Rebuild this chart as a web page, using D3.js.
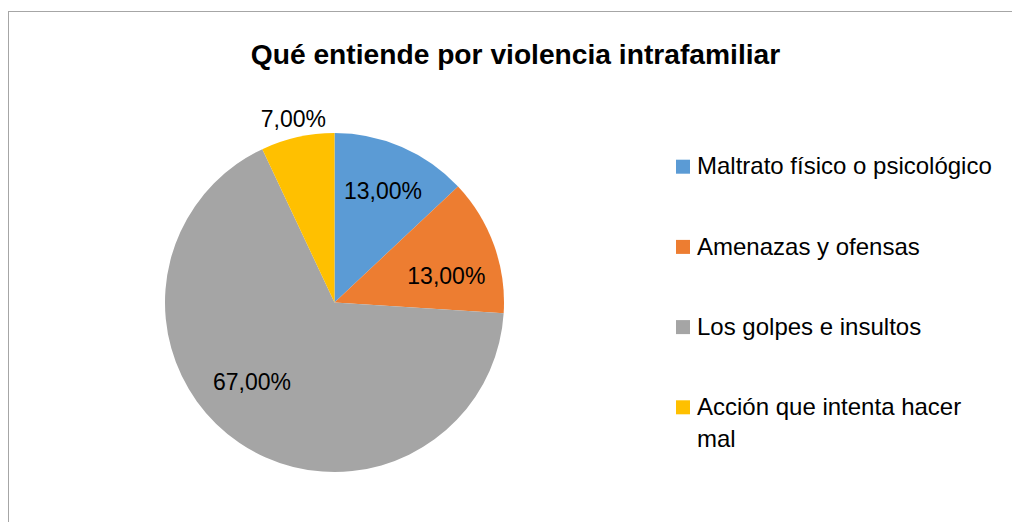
<!DOCTYPE html>
<html>
<head>
<meta charset="utf-8">
<script src="https://cdn.jsdelivr.net/npm/d3@7"></script>
<style>
    body { margin: 0; background: #fff; }
    text { font-family: "Liberation Sans", Arial, sans-serif; fill: #000; }
</style>
</head>
<body>
<div id="chart"></div>
<script>
// Data
let categories = ['Maltrato físico o psicológico', 'Amenazas y ofensas', 'Los golpes e insultos', 'Acción que intenta hacer mal'];
let values = [13, 13, 67, 7];   // percent
let colors = ['#5b9bd5', '#ed7d31', '#a5a5a5', '#ffc000'];
let title = 'Qué entiende por violencia intrafamiliar';

let dim = { 'width': 1012, 'height': 522 };
let cx = 334.5, cy = 302.5, radius = 169.5;

let svg = d3.select('#chart')
    .append('svg')
    .attr('width', dim.width)
    .attr('height', dim.height);

// chart frame (runs off the right and bottom of the picture)
svg.append('rect')
    .attr('x', 8.5).attr('y', 11.5)
    .attr('width', 1100).attr('height', 600)
    .attr('fill', 'none')
    .attr('stroke', '#a6a6a6');

svg.append('text')
    .attr('x', 515.5).attr('y', 63.5)
    .attr('text-anchor', 'middle')
    .style('font-size', '28.2px')
    .style('font-weight', 'bold')
    .text(title);

let data = categories.map((c, i) => ({ name: c, value: values[i], color: colors[i] }));

let pie = d3.pie().sort(null).value(d => d.value);
let arcs = pie(data);

let arc = d3.arc().innerRadius(0).outerRadius(radius);
let insideArc = d3.arc().innerRadius(radius * 0.72).outerRadius(radius * 0.72);
let outsideArc = d3.arc().innerRadius(radius + 19).outerRadius(radius + 19);

let g = svg.append('g').attr('transform', `translate(${cx},${cy})`);

g.selectAll('path')
    .data(arcs)
    .join('path')
    .attr('d', arc)
    .attr('fill', d => d.data.color);

// "best fit" labels: inside when the slice is big enough, outside otherwise
let labelNudge = [[0, 0], [-3, 15], [-14, -22], [0, 0]];
let fmt = v => d3.format('.2f')(v).replace('.', ',') + '%';

g.selectAll('text.lbl')
    .data(arcs)
    .join('text')
    .classed('lbl', true)
    .attr('transform', (d, i) => {
        let p = (d.endAngle - d.startAngle) > 0.5 ? insideArc.centroid(d) : outsideArc.centroid(d);
        return `translate(${p[0] + labelNudge[i][0]},${p[1] + labelNudge[i][1]})`;
    })
    .attr('text-anchor', 'middle')
    .attr('dy', '0.36em')
    .style('font-size', '23px')
    .text(d => fmt(d.value));

// Legend
let ly = d3.scalePoint()
    .domain(categories)
    .range([166.7, 407.3]);

let legend = svg.append('g');
let item = legend.selectAll('g')
    .data(data)
    .join('g')
    .attr('transform', d => `translate(676,${ly(d.name)})`);

item.append('rect')
    .attr('x', 0).attr('y', -7)
    .attr('width', 14).attr('height', 14)
    .attr('fill', d => d.color);

let maxWidth = 300;
item.append('text')
    .attr('x', 21)
    .attr('y', 7.6)
    .style('font-size', '24px')
    .each(function (d) {
        let t = d3.select(this);
        let words = d.name.split(' ');
        let line = [];
        let tspan = t.append('tspan').attr('x', 21);
        let lineNo = 0;
        words.forEach(w => {
            line.push(w);
            tspan.text(line.join(' '));
            if (tspan.node().getComputedTextLength() > maxWidth && line.length > 1) {
                line.pop();
                tspan.text(line.join(' '));
                line = [w];
                lineNo++;
                tspan = t.append('tspan').attr('x', 21).attr('dy', 32.5).text(w);
            }
        });
    });
</script>
</body>
</html>
